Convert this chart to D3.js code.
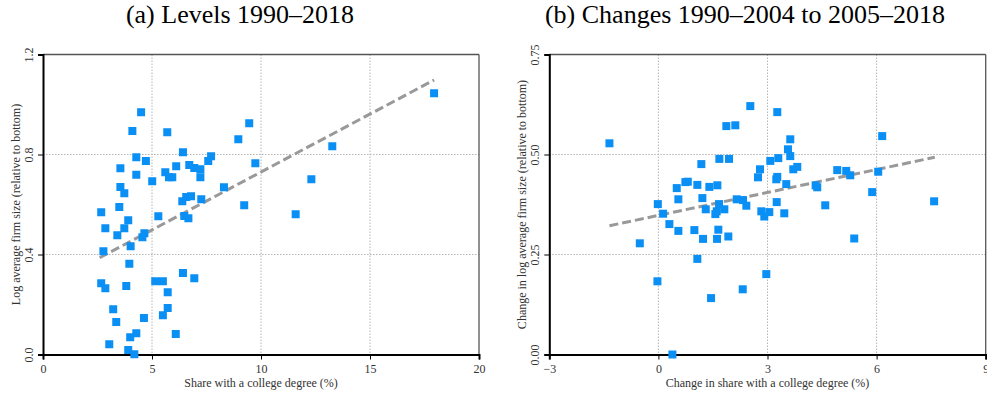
<!DOCTYPE html>
<html><head><meta charset="utf-8">
<script src="https://cdn.jsdelivr.net/npm/d3@7"></script>
<style>body{margin:0;background:#fff;}svg{display:block;} svg text{font-family:"Liberation Serif","Times New Roman",serif;}</style>
</head><body><svg id="c" width="987" height="397"></svg>
<script>
// Panel (a): levels
const levelsX = [4.50,4.10,5.70,6.42,4.28,4.72,7.71,7.58,3.55,6.11,6.71,6.94,7.22,4.28,5.61,5.78,5.93,7.22,5.01,3.55,3.73,8.30,8.96,9.46,6.57,6.79,6.39,7.26,9.23,3.50,2.67,5.29,6.48,6.67,3.91,2.86,3.73,3.41,4.65,4.56,2.77,4.02,3.96,6.42,6.94,2.67,5.15,5.50,3.82,2.86,5.72,3.22,5.72,5.50,4.63,3.36,6.09,4.00,4.28,3.04,3.91,4.19,9.74,13.27,12.31,11.59,17.94];
const levelsY = [0.969,0.894,0.889,0.809,0.789,0.774,0.793,0.774,0.745,0.753,0.758,0.746,0.741,0.719,0.729,0.709,0.709,0.709,0.693,0.670,0.645,0.669,0.861,0.925,0.630,0.633,0.613,0.621,0.597,0.590,0.569,0.553,0.554,0.545,0.537,0.505,0.505,0.477,0.485,0.469,0.413,0.433,0.363,0.326,0.305,0.285,0.293,0.293,0.274,0.265,0.249,0.181,0.186,0.157,0.146,0.130,0.082,0.069,0.085,0.041,0.018,0.001,0.765,0.833,0.701,0.561,1.045];
const levelsFitX = [2.6, 17.94];
const levelsFitY = [0.387, 1.098];
const levelsXTicks = [0,5,10,15,20];
const levelsYTicks = [0.0,0.4,0.8,1.2];

// Panel (b): changes
const changesX = [-1.346,2.527,1.868,2.115,1.676,1.942,1.181,0.742,0.808,1.071,1.401,1.621,0.505,1.209,0.549,-0.016,0.129,1.302,1.604,1.566,1.813,1.668,2.154,2.327,2.418,0.302,0.549,0.989,1.228,1.648,1.613,1.923,-0.511,1.071,-0.027,2.319,1.448,0.385,3.269,3.626,6.154,3.563,3.626,3.297,3.077,2.794,3.709,3.819,2.739,3.269,3.242,3.516,4.918,5.165,5.275,6.044,4.324,4.368,5.879,3.253,4.588,7.582,2.830,3.049,2.912,3.462,5.385,2.967];
const changesY = [0.528,0.621,0.571,0.573,0.489,0.489,0.476,0.431,0.432,0.424,0.419,0.423,0.416,0.391,0.388,0.376,0.352,0.363,0.358,0.351,0.363,0.376,0.388,0.386,0.372,0.326,0.309,0.311,0.289,0.312,0.289,0.295,0.278,0.239,0.183,0.163,0.141,0.000,0.606,0.538,0.546,0.513,0.496,0.491,0.484,0.463,0.463,0.469,0.443,0.444,0.438,0.426,0.461,0.459,0.448,0.457,0.423,0.418,0.406,0.381,0.373,0.383,0.358,0.356,0.345,0.353,0.290,0.201];
const changesFitX = [-1.346, 7.60];
const changesFitY = [0.322, 0.493];
const changesXTicks = [-3,0,3,6,9];
const changesYTicks = [0.00,0.25,0.50,0.75];

const svg = d3.select("#c");
const SERIF = "Liberation Serif, Times New Roman, serif";

function panel(o){
  const x = d3.scaleLinear().domain(o.xd).range([o.left, o.right]);
  const y = d3.scaleLinear().domain(o.yd).range([o.bottom, o.top]);
  const g = svg.append("g");
  // grid
  o.xt.filter(v=>v!==o.xd[0]&&v!==o.xd[1]).forEach(v=>{
    g.append("line").attr("x1",x(v)).attr("x2",x(v)).attr("y1",o.top).attr("y2",o.bottom)
     .attr("stroke","#b5b5b5").attr("stroke-width",1).attr("stroke-dasharray","1.5,1.5");
  });
  o.yt.filter(v=>v!==o.yd[0]&&v!==o.yd[1]).forEach(v=>{
    g.append("line").attr("x1",o.left).attr("x2",o.right).attr("y1",y(v)).attr("y2",y(v))
     .attr("stroke","#b5b5b5").attr("stroke-width",1).attr("stroke-dasharray","1.5,1.5");
  });
  // top/right frame
  g.append("line").attr("x1",o.left).attr("x2",o.right).attr("y1",o.top).attr("y2",o.top).attr("stroke","#555").attr("stroke-width",1.3);
  g.append("line").attr("x1",o.right).attr("x2",o.right).attr("y1",o.top).attr("y2",o.bottom).attr("stroke","#555").attr("stroke-width",1.3);
  // axes
  const xa = g.append("g").attr("transform",`translate(0,${o.bottom})`)
    .call(d3.axisBottom(x).tickValues(o.xt).tickSize(5).tickPadding(5).tickFormat(d3.format("d")));
  xa.attr("font-family",SERIF);
  xa.select(".domain").attr("stroke","#000").attr("stroke-width",2);
  xa.selectAll(".tick line").attr("stroke","#000");
  xa.selectAll("text").attr("font-family",SERIF).attr("font-size",12).attr("fill","#333");
  const ya = g.append("g").attr("transform",`translate(${o.left},0)`)
    .call(d3.axisLeft(y).tickValues(o.yt).tickSize(5).tickPadding(4).tickFormat(d3.format(o.yf)));
  ya.attr("font-family",SERIF);
  ya.select(".domain").attr("stroke","#000").attr("stroke-width",2);
  ya.selectAll(".tick line").attr("stroke","#000");
  ya.selectAll("text").attr("font-family",SERIF).attr("font-size",12).attr("fill","#333")
    .attr("transform","rotate(-90)").attr("x",0).attr("y",-10).attr("dy","0").attr("text-anchor","middle");
  // fit line
  g.append("line").attr("x1",x(o.fx[0])).attr("y1",y(o.fy[0])).attr("x2",x(o.fx[1])).attr("y2",y(o.fy[1]))
    .attr("stroke","#999").attr("stroke-width",3).attr("stroke-dasharray","9,4");
  // points
  g.selectAll("rect.p").data(o.px.map((v,i)=>[v,o.py[i]])).enter().append("rect")
    .attr("x",d=>x(d[0])-4).attr("y",d=>y(d[1])-4).attr("width",8).attr("height",8)
    .attr("fill","#0a8ff5");
  // labels
  svg.append("text").attr("x",(o.left+o.right)/2).attr("y",387).attr("text-anchor","middle")
    .attr("font-family",SERIF).attr("font-size",12).attr("fill","#333").text(o.xl);
  svg.append("text").attr("transform",`translate(${o.ylx},${(o.top+o.bottom)/2}) rotate(-90)`).attr("text-anchor","middle")
    .attr("font-family",SERIF).attr("font-size",12).attr("fill","#333").text(o.yl);
  svg.append("text").attr("x",o.tx).attr("y",23).attr("text-anchor","middle")
    .attr("font-family",SERIF).attr("font-size",26).attr("fill","#000").text(o.title);
}

panel({xd:[0,20], yd:[0,1.2], left:43, right:479, top:54.5, bottom:354.5,
  xt:levelsXTicks, yt:levelsYTicks, yf:".1f", px:levelsX, py:levelsY, fx:levelsFitX, fy:levelsFitY,
  xl:"Share with a college degree (%)", yl:"Log average firm size (relative to bottom)", ylx:20,
  title:"(a) Levels 1990–2018", tx:240});
panel({xd:[-3,9], yd:[0,0.75], left:549.3, right:985.7, top:54.5, bottom:354.5,
  xt:changesXTicks, yt:changesYTicks, yf:".2f", px:changesX, py:changesY, fx:changesFitX, fy:changesFitY,
  xl:"Change in share with a college degree (%)", yl:"Change in log average firm size (relative to bottom)", ylx:526,
  title:"(b) Changes 1990–2004 to 2005–2018", tx:745});
</script></body></html>
